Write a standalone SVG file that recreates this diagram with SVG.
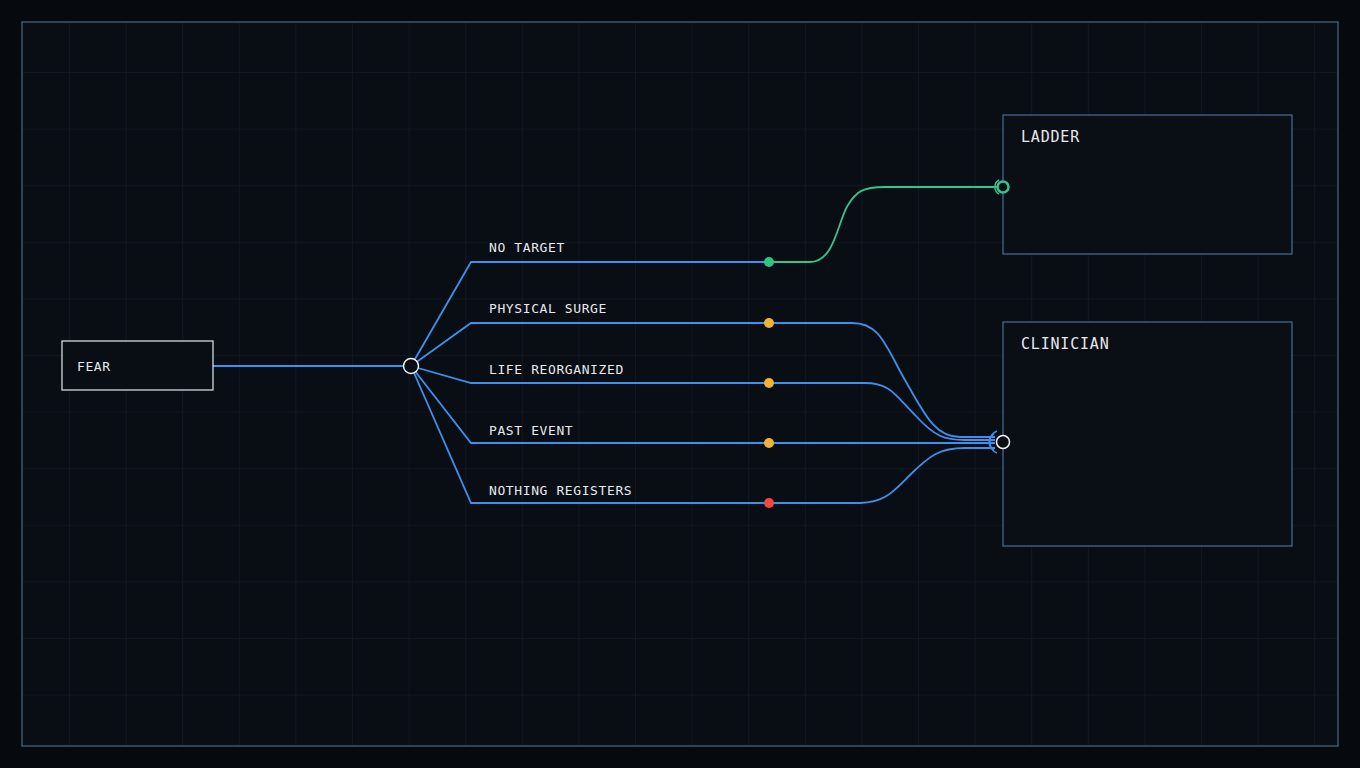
<svg xmlns="http://www.w3.org/2000/svg" width="1360" height="768" viewBox="0 0 1360 768">
<defs>
<pattern id="g" x="13.4" y="16.4" width="56.6" height="56.6" patternUnits="userSpaceOnUse">
<path d="M56.6 0V56.6M0 56.6H56.6" fill="none" stroke="#18212e" stroke-width="1"/>
</pattern>
<style>
.t{font-family:"DejaVu Sans Mono","Liberation Mono",monospace;font-size:13px;fill:#e6e9ee;letter-spacing:0.6px}
.tb{font-family:"DejaVu Sans Mono","Liberation Mono",monospace;font-size:15px;fill:#e6e9ee;letter-spacing:0.8px}
.box{fill:#0a0e15;stroke:#4a6e96;stroke-width:1.2}
.b{fill:none;stroke:#3f8fec;stroke-width:1.8}
.gr{fill:none;stroke:#34c58a;stroke-width:1.8}
</style>
</defs>
<rect width="1360" height="768" fill="#06090e"/>
<rect x="22" y="22" width="1316" height="724" fill="#090d14"/>
<rect x="22" y="22" width="1316" height="724" fill="url(#g)"/>
<rect x="22" y="22" width="1316" height="724" fill="none" stroke="#3e5672" stroke-width="1.5"/>
<g id="connectors">
<path class="b" d="M213 366H411"/>
<path class="b" d="M411 366L471 262H769"/>
<path class="b" d="M411 366L471 323H769"/>
<path class="b" d="M411 366L471 383H769"/>
<path class="b" d="M411 366L471 443H769"/>
<path class="b" d="M411 366L471 503H769"/>
<path class="gr" d="M769 262H810C835 262 838 220 848 205C856 192 862 187 885 187H1000"/>
<path class="b" d="M769 323H852C880 323 885 345 905 380C925 415 935 437 960 437H995"/>
<path class="b" d="M769 383H865C890 383 895 395 915 415C935 437 945 440 965 440H995"/>
<path class="b" d="M769 443H995"/>
<path class="b" d="M769 503H860C885 503 895 490 910 475C930 455 940 448 965 448H995"/>
</g>
<g id="fear"><rect x="62" y="341" width="151" height="49" fill="#090d14" stroke="#e6e9ee" stroke-width="1.2"/><text class="t" x="77" y="371">FEAR</text></g>
<g id="ladder"><rect class="box" x="1003" y="115" width="289" height="139"/><text class="tb" x="1021" y="142">LADDER</text></g>
<g id="clinician"><rect class="box" x="1003" y="322" width="289" height="224"/><text class="tb" x="1021" y="349">CLINICIAN</text></g>
<g id="hub"><circle cx="411" cy="366" r="7.5" fill="#090d14" stroke="#f0f2f5" stroke-width="1.5"/></g>
<g id="labels">
<text class="t" x="489" y="252">NO TARGET</text>
<text class="t" x="489" y="313">PHYSICAL SURGE</text>
<text class="t" x="489" y="374">LIFE REORGANIZED</text>
<text class="t" x="489" y="435">PAST EVENT</text>
<text class="t" x="489" y="495">NOTHING REGISTERS</text>
</g>
<g id="dots">
<circle cx="769" cy="262" r="5" fill="#2fc485"/>
<circle cx="769" cy="323" r="5" fill="#f0b232"/>
<circle cx="769" cy="383" r="5" fill="#f0b232"/>
<circle cx="769" cy="443" r="5" fill="#f0b232"/>
<circle cx="769" cy="503" r="5" fill="#ee4b3e"/>
</g>
<g id="ports">
<path d="M999 180A8 8 0 0 0 999 194" fill="none" stroke="#34c58a" stroke-width="1.5"/>
<circle cx="1003" cy="187" r="5.5" fill="#090d14" stroke="#34c58a" stroke-width="2.5"/>
<path d="M997 431A12 12 0 0 0 997 453" fill="none" stroke="#3f8fec" stroke-width="1.5"/>
<path d="M994 434A9 9 0 0 0 994 450" fill="none" stroke="#3f8fec" stroke-width="1.5"/>
<circle cx="1003" cy="442" r="6.5" fill="#090d14" stroke="#f0f2f5" stroke-width="1.5"/>
</g>
</svg>
